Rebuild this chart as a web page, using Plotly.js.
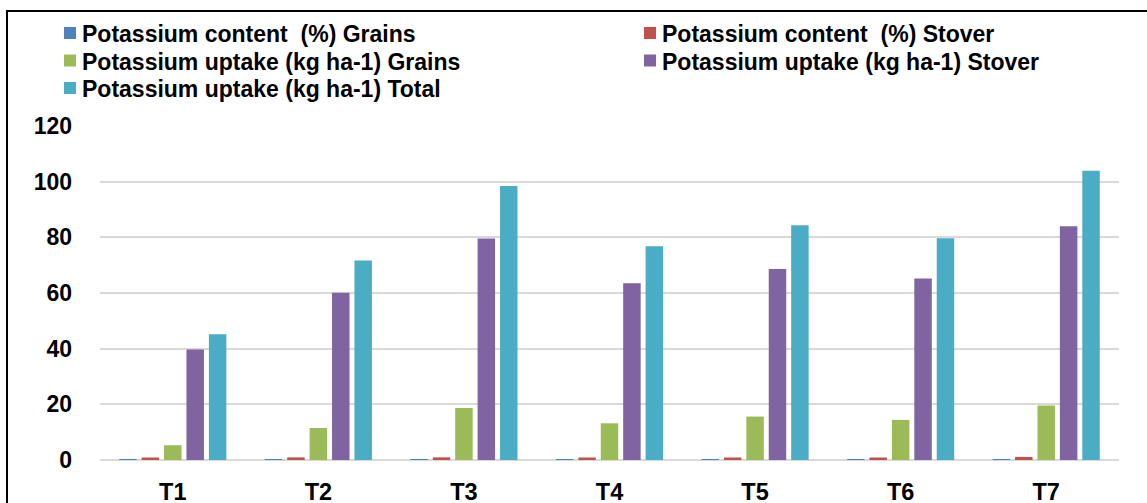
<!DOCTYPE html>
<html>
<head>
<meta charset="utf-8">
<script src="https://cdn.plot.ly/plotly-3.0.1.min.js"></script>
<style>
  html, body { margin: 0; padding: 0; background: #fff; overflow: hidden; }
  #wrap { position: relative; width: 1147px; height: 503px; }
  #chart { width: 1147px; height: 503px; }
  #frame { position: absolute; left: 6px; top: 10px; width: 1160px; height: 520px;
           border-left: 2px solid #000; border-top: 2px solid #000; pointer-events: none; }
</style>
</head>
<body>
<div id="wrap">
  <div id="chart"></div>
  <div id="frame"></div>
</div>
<script>
const categories = ["T1", "T2", "T3", "T4", "T5", "T6", "T7"];
const contentGrains = [0.25, 0.25, 0.25, 0.25, 0.25, 0.25, 0.25];
const contentStover = [0.90, 0.95, 0.95, 0.90, 0.90, 0.90, 1.10];
const uptakeGrains  = [5.3, 11.5, 18.7, 13.2, 15.6, 14.4, 19.6];
const uptakeStover  = [39.7, 60.1, 79.6, 63.5, 68.6, 65.2, 84.0];
const uptakeTotal   = [45.2, 71.7, 98.4, 76.8, 84.3, 79.7, 103.9];
const seriesNames = [
  "Potassium content  (%) Grains",
  "Potassium content  (%) Stover",
  "Potassium uptake (kg ha-1) Grains",
  "Potassium uptake (kg ha-1) Stover",
  "Potassium uptake (kg ha-1) Total"
];
const yTicks = [0, 20, 40, 60, 80, 100, 120];

const colors = ["#4F81BD", "#C0504D", "#9BBB59", "#8064A2", "#4BACC6"];
const values = [contentGrains, contentStover, uptakeGrains, uptakeStover, uptakeTotal];

const W = 1147, H = 503;
const M = { l: 100, r: 28, t: 126, b: 43 };
const PW = W - M.l - M.r, PH = H - M.t - M.b;
const px2x = p => (p - M.l) / PW;
const px2y = p => (H - M.b - p) / PH;

const traces = values.map((v, i) => ({
  type: "bar",
  name: seriesNames[i],
  x: categories,
  y: v,
  marker: { color: colors[i], line: { width: 0 } },
  hoverinfo: "x+y+name"
}));

// Legend drawn as swatches + text (two columns, row-major like the original)
const legendCols = [64, 644];      // swatch left edges (px)
const legendRows = [33, 60.5, 88]; // row centres (px)
const shapes = [];
const annotations = [];
seriesNames.forEach((name, i) => {
  const col = i % 2, row = Math.floor(i / 2);
  const sx = legendCols[col], cy = legendRows[row];
  shapes.push({
    type: "rect", xref: "paper", yref: "paper", layer: "above",
    x0: px2x(sx), x1: px2x(sx + 12), y0: px2y(cy + 6), y1: px2y(cy - 6),
    fillcolor: colors[i], line: { width: 0 }
  });
  annotations.push({
    xref: "paper", yref: "paper", x: px2x(sx + 16), y: px2y(cy + 1),
    xanchor: "left", yanchor: "middle", showarrow: false,
    text: name, font: { size: 23, weight: "bold", color: "#000" }
  });
});

const layout = {
  width: W, height: H,
  margin: { l: M.l, r: M.r, t: M.t, b: M.b, pad: 0 },
  paper_bgcolor: "#fff",
  plot_bgcolor: "#fff",
  barmode: "group",
  bargap: 0.23,
  bargroupgap: 0.22,
  font: { family: "Arial, 'Liberation Sans', sans-serif", color: "#000", size: 23, weight: "bold" },
  showlegend: false,
  shapes: shapes,
  annotations: annotations,
  xaxis: {
    type: "category",
    showgrid: false,
    zeroline: false,
    showline: false,
    ticks: "",
    ticklabelstandoff: 15,
    tickfont: { size: 23.5, weight: "bold" },
    fixedrange: true
  },
  yaxis: {
    range: [0, 120],
    tickvals: yTicks,
    ticktext: yTicks.map(String),
    showgrid: true,
    gridcolor: "#D9D9D9",
    gridwidth: 2,
    zeroline: true,
    zerolinecolor: "#D9D9D9",
    zerolinewidth: 2,
    showline: false,
    ticks: "",
    ticklabelstandoff: 27,
    tickfont: { size: 23, weight: "bold" },
    fixedrange: true
  }
};

Plotly.newPlot("chart", traces, layout, { displayModeBar: false });
</script>
</body>
</html>
